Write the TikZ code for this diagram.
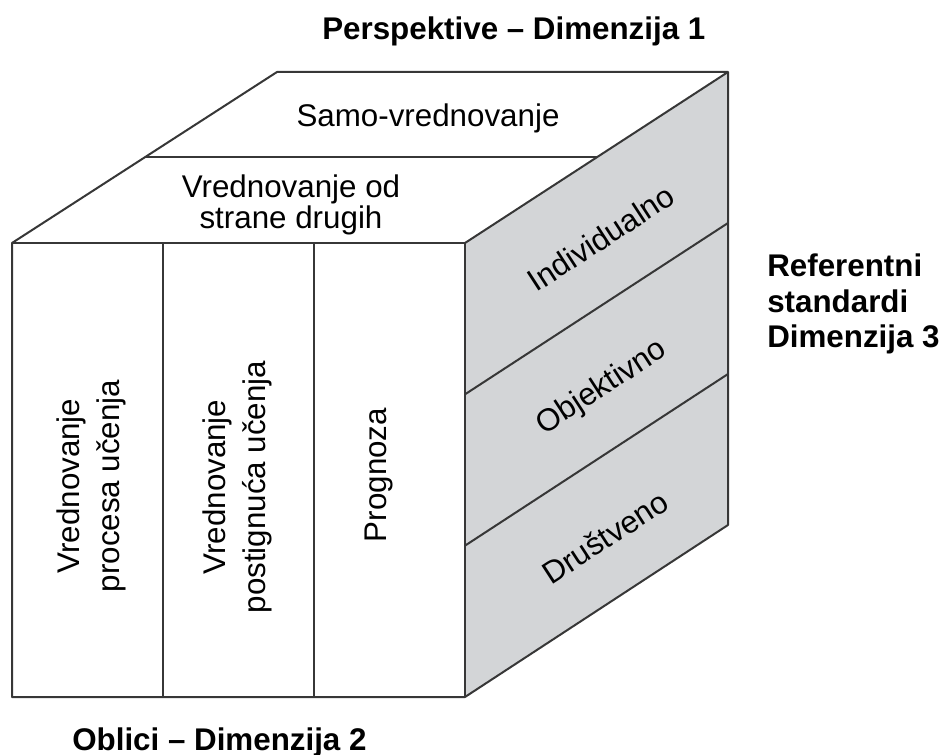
\documentclass[tikz,border=0pt]{standalone}
\usepackage{fontspec}
\setmainfont{Liberation Sans}
\usetikzlibrary{positioning,calc}
\definecolor{sidegray}{RGB}{211,213,215}
\definecolor{edgegray}{RGB}{55,55,55}
\tikzset{
  edge/.style   = {draw=edgegray, line width=1.5pt, line join=round},
  lbl/.style    = {font=\fontsize{23.5}{23.3}\selectfont, align=center, inner sep=0pt},
  vlbl/.style   = {lbl, rotate=90, font=\fontsize{23.5}{30}\selectfont},
  slab/.style   = {lbl, rotate=33},
  dimlbl/.style = {font=\fontsize{23.5}{26.3}\selectfont\bfseries, align=left, inner sep=0pt}
}

\begin{document}
\begin{tikzpicture}[x=0.75pt, y=-0.75pt]
\useasboundingbox (0,0) rectangle (941,755);

% --- Wuerfel -----------------------------------------------------
\coordinate (fa) at (12,243);    % vorne oben links
\coordinate (fb) at (465,243);   % vorne oben rechts
\coordinate (fc) at (465,697);   % vorne unten rechts
\coordinate (fd) at (12,697);    % vorne unten links
\coordinate (ba) at (277,72);    % hinten oben links
\coordinate (bb) at (728,72);    % hinten oben rechts
\coordinate (bc) at (728,525);   % hinten unten rechts

\fill[sidegray] (fb) -- (bb) -- (bc) -- (fc) -- cycle;
\draw[edge] (fa) -- (ba) -- (bb) -- (bc) -- (fc) -- (fd) -- cycle;
\draw[edge] (fa) -- (fb) -- (fc);
\draw[edge] (fb) -- (bb);

% Teilungen
\draw[edge] ($(fa)!0.5!(ba)$) -- ($(fb)!0.5!(bb)$);
\foreach \t in {1,2} {
  \draw[edge] ($(fa)!\t/3!(fb)$) -- ($(fd)!\t/3!(fc)$);
  \draw[edge] ($(fb)!\t/3!(fc)$) -- ($(bb)!\t/3!(bc)$);
}

% --- Beschriftung Flaechen ---------------------------------------
\node[lbl, anchor=base] (samo) at (428,127) {Samo-vrednovanje};
\node[lbl] (drugi) at (291,205) {Vrednovanje od\\strane drugih};

\node[vlbl] (proces) at (91,486) {Vrednovanje\\procesa učenja};
\node[vlbl] (postig) at (237,487) {Vrednovanje\\postignuća učenja};
\node[vlbl] (prog)   at (379,475) {Prognoza};

\node[slab] (indiv) at (601,238) {Individualno};
\node[slab] (objek) at (602,388) {Objektivno};
\node[slab] (drust) at (605,537) {Društveno};

% --- Dimensionen -------------------------------------------------
\node[dimlbl, anchor=base west] (dim1) at (322,40) {Perspektive – Dimenzija 1};
\node[dimlbl, anchor=north west] (dim3) at (767,254) {Referentni\\standardi\\Dimenzija 3};
\node[dimlbl, anchor=base west] (dim2) at (72,750) {Oblici – Dimenzija 2};
\end{tikzpicture}
\end{document}
